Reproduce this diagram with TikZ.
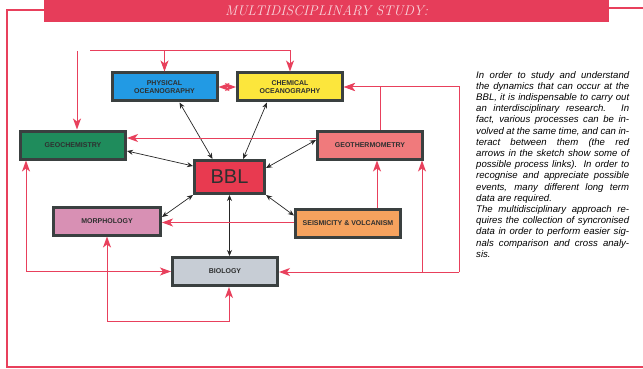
\documentclass[tikz,border=0pt]{standalone}
\usepackage{fontspec}
\setsansfont{Liberation Sans}
\usepackage{xcolor}
\usepackage{tikz}
\usetikzlibrary{positioning,calc,arrows.meta}

\definecolor{redln}{HTML}{E8405C}
\definecolor{bannerred}{HTML}{E63D5A}
\definecolor{titlepink}{HTML}{F8D3DA}
\definecolor{boxline}{HTML}{3A4040}
\definecolor{labeltext}{HTML}{2E3030}
\definecolor{physblue}{HTML}{229AE4}
\definecolor{chemyellow}{HTML}{FCE63C}
\definecolor{geochemgreen}{HTML}{1F8C5C}
\definecolor{geothermsalmon}{HTML}{F07A7C}
\definecolor{bblred}{HTML}{E83A50}
\definecolor{morphpink}{HTML}{D890B4}
\definecolor{seismorange}{HTML}{F5A25E}
\definecolor{biogrey}{HTML}{C7CDD5}

\begin{document}
\begin{tikzpicture}[x=1pt,y=-1pt,
  box/.style={draw=boxline,line width=3pt,minimum width=105pt,minimum height=28pt,
    inner sep=1pt,align=center,text=labeltext,
    font=\sffamily\bfseries\fontsize{7}{8.3}\selectfont},
  redarr/.style={draw=redln,line width=1pt,-{Stealth[length=11pt,width=8pt,inset=3pt]}},
  redboth/.style={draw=redln,line width=1pt,
    {Stealth[length=11pt,width=8pt,inset=3pt]}-{Stealth[length=11pt,width=8pt,inset=3pt]}},
  blkarr/.style={draw=black!85,line width=0.7pt,{Stealth[length=6pt,width=5pt]}-{Stealth[length=6pt,width=5pt]}}]
\useasboundingbox (0,0) rectangle (643,369);

% frame and title
\node[fill=bannerred,minimum width=565pt,minimum height=23pt,inner sep=0pt,
  text=titlepink,font=\itshape\fontsize{14}{14}\selectfont] (banner) at (326.5,11) {MULTIDISCIPLINARY STUDY:};
\draw[redln,line width=2.5pt] (44,10) -| (7,367) -- (643,367);
\draw[redln,line width=2.5pt] (609,8) -- (643,8);

% boxes
\node[box,fill=physblue] (phys) at (164.5,87) {PHYSICAL\\OCEANOGRAPHY};
\node[box,fill=chemyellow] (chem) at (290,87) {CHEMICAL\\OCEANOGRAPHY};
\node[box,fill=geochemgreen] (geochem) at (73,145) {GEOCHEMISTRY};
\node[box,fill=geothermsalmon] (geotherm) at (370,145) {GEOTHERMOMETRY};
\node[box,fill=bblred,minimum width=70pt,minimum height=33pt,
  font=\sffamily\fontsize{20}{20}\selectfont] (bbl) at (229.5,177) {BBL};
\node[box,fill=morphpink,minimum width=107pt] (morph) at (107,221) {MORPHOLOGY};
\node[box,fill=seismorange] (seism) at (348,223.5) {SEISMICITY \& VOLCANISM};
\node[box,fill=biogrey] (bio) at (225,271.5) {BIOLOGY};

% black links to BBL
\draw[blkarr] ([xshift=15pt]phys.south) -- ([xshift=-17pt]bbl.north);
\draw[blkarr] ([xshift=-23pt]chem.south) -- ([xshift=13.5pt]bbl.north);
\draw[blkarr] ([yshift=-6pt]geochem.east) -- ([yshift=11pt]bbl.west);
\draw[blkarr] ([yshift=5pt]geotherm.west) -- ([yshift=9pt]bbl.east);
\draw[blkarr] (bbl.south west) -- ([yshift=4pt]morph.east);
\draw[blkarr] (bbl.south east) -- ([yshift=8pt]seism.west);
\draw[blkarr] (bbl.south) -- (bbl.south |- bio.north);

% red process links
\coordinate (topl) at (77,51);
\coordinate (topr) at (90,51);
\coordinate (rloop) at (459,272);
\coordinate (mloop) at (229,321);
\coordinate (gtup) at ([xshift=10pt]geotherm.north);
\coordinate (gtlow) at ([xshift=52pt]geotherm.south);
\coordinate (seup) at ([xshift=29pt]seism.north);
\coordinate (gcleft) at ([xshift=-47pt]geochem.south);

\draw[redboth] (phys) -- (chem);
\draw[redarr] (topl) -- (topl |- geochem.north);
\draw[redarr] (topr) -| (phys.north);
\draw[redarr] (topr) -| (chem.north);
\draw[redarr] ([yshift=7pt]geotherm.west) -- ([yshift=7pt]geotherm.west -| geochem.east);
\draw[redarr] (gtup) |- (chem.east);
\draw[redarr] (rloop) |- (chem.east);
\draw[redarr] (rloop) -- (rloop -| bio.east);
\draw[redarr] (gtlow |- rloop) -- (gtlow);
\draw[redarr] (seup) -- (seup |- geotherm.south);
\draw[redarr] ([yshift=1pt]seism.west) -- ([yshift=1pt]seism.west -| morph.east);
\draw[redboth] (gcleft) |- (bio.west);
\draw[redboth] (morph.south) |- (mloop) -- (mloop |- bio.south);

% side text
\node[anchor=north west,text width=153pt,align=justify,inner sep=0pt,
  font=\sffamily\itshape\fontsize{9.6}{11.2}\selectfont] (note) at (476,71)
{In order to study and understand\linebreak the dynamics that can occur at the\linebreak
BBL, it is indispensable to carry out\linebreak an interdisciplinary research. In\linebreak
fact, various processes can be in-\linebreak volved at the same time, and can in-\linebreak
teract between them (the red\linebreak arrows in the sketch show some of\linebreak
possible process links). In order to\linebreak recognise and appreciate possible\linebreak
events, many different long term\linebreak data are required.\\
The multidisciplinary approach re-\linebreak quires the collection of syncronised\linebreak
data in order to perform easier sig-\linebreak nals comparison and cross analy-\linebreak sis.};
\end{tikzpicture}
\end{document}
